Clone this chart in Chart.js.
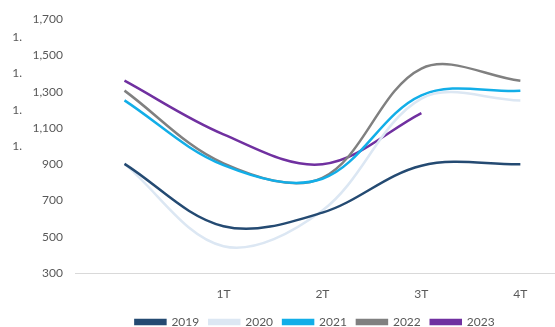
<!DOCTYPE html>
<html>
<head>
<meta charset="utf-8">
<script src="https://cdn.jsdelivr.net/npm/chart.js@4"></script>
<style>
  html, body { margin: 0; padding: 0; background: #fff; }
  #wrap { width: 555px; height: 327px; }
</style>
</head>
<body>
<div id="wrap"><canvas id="trim-chart"></canvas></div>
<script>
// categories (first slot has no label in the original)
var categories = ["", "1T", "2T", "3T", "4T"];

var v2019 = [902, 558, 633, 892, 900];
var v2020 = [902, 448, 645, 1262, 1252];
var v2021 = [1252, 895, 820, 1280, 1305];
var v2022 = [1306, 905, 825, 1428, 1360];
var v2023 = [1361, 1065, 900, 1182, null];

var yTicks = [300, 500, 700, 900, 1100, 1300, 1500, 1700];
// truncated labels left over at the far left of the original
var ghostTicks = [1000, 1200, 1400, 1600];

function pts(arr) {
    return arr.map(function (v, i) { return { x: i, y: v }; });
}

function line(label, values, color) {
    return {
        label: label,
        data: pts(values),
        borderColor: color,
        backgroundColor: color,
        borderWidth: 2.5,
        pointRadius: 0,
        tension: 0.35,
        fill: false
    };
}

var font = { family: "Lato, 'Liberation Sans', sans-serif", size: 12 };

var ctx = document.getElementById("trim-chart");

var myChart = new Chart(ctx, {
    type: 'line',
    data: {
        datasets: [
            line("2019", v2019, "#244a72"),
            line("2020", v2020, "#dce7f3"),
            line("2021", v2021, "#12aee8"),
            line("2022", v2022, "#808080"),
            line("2023", v2023, "#7030a0")
        ]
    },
    options: {
        responsive: true,
        maintainAspectRatio: false,
        animation: false,
        layout: { padding: { left: 0, right: 0, top: 8, bottom: -11 } },
        plugins: {
            legend: {
                display: true,
                position: 'bottom',
                fullSize: false,
                labels: {
                    boxWidth: 30,
                    boxHeight: 4,
                    padding: 10,
                    color: '#595959',
                    font: font
                }
            },
            tooltip: { enabled: false }
        },
        scales: {
            x: {
                type: 'linear',
                min: -0.5,
                max: 4.35,
                afterBuildTicks: function (axis) {
                    axis.ticks = categories.map(function (c, i) { return { value: i }; });
                },
                afterFit: function (axis) { axis.height = 33; },
                ticks: {
                    color: '#595959',
                    font: font,
                    padding: 14,
                    autoSkip: false,
                    maxRotation: 0,
                    callback: function (v) { return categories[v]; }
                },
                grid: { display: false, drawTicks: false },
                border: { display: true, color: '#d9d9d9', width: 1 }
            },
            y: {
                min: 300,
                max: 1700,
                weight: 0,
                afterBuildTicks: function (axis) {
                    axis.ticks = yTicks.map(function (v) { return { value: v }; });
                },
                afterFit: function (axis) { axis.width = 43; },
                ticks: { color: '#595959', font: font, padding: 12 },
                grid: { display: false, drawTicks: false },
                border: { display: false }
            },
            ghost: {
                position: 'left',
                min: 300,
                max: 1700,
                weight: 1,
                afterBuildTicks: function (axis) {
                    axis.ticks = ghostTicks.map(function (v) { return { value: v }; });
                },
                afterFit: function (axis) { axis.width = 32; },
                ticks: {
                    color: '#595959',
                    font: font,
                    padding: 10,
                    callback: function () { return "1."; }
                },
                grid: { display: false, drawTicks: false },
                border: { display: false }
            }
        }
    }
});
</script>
</body>
</html>
